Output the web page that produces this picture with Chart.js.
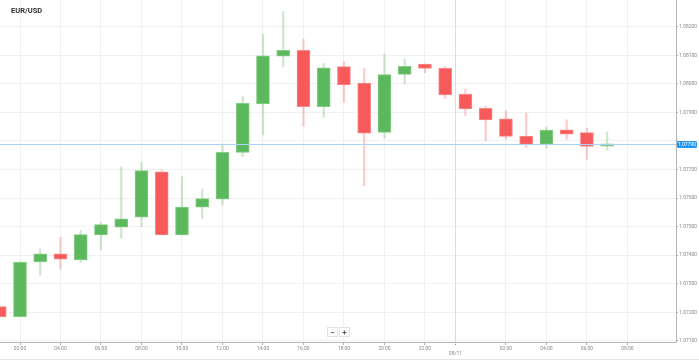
<!DOCTYPE html>
<html>
<head>
<meta charset="utf-8">
<script src="https://cdn.jsdelivr.net/npm/chart.js@4.4.1/dist/chart.umd.min.js"></script>
<style>
  html, body { margin: 0; padding: 0; background: #fff; }
  #wrap { position: relative; width: 699px; height: 361px; }
</style>
</head>
<body>
<div id="wrap"><canvas id="chart" width="699" height="361"></canvas></div>
<script>
const title = 'EUR/USD';
const dayLabel = '08/11';
const dayBreak = 23.5;      // where the date marker sits (hours)
const lastPrice = 1.07790;

// hours counted from 00:00 of the first day, one candle per hour
const hours = [1, 2, 3, 4, 5, 6, 7, 8, 9, 10, 11, 12, 13, 14, 15, 16,
               17, 18, 19, 20, 21, 22, 23, 24, 25, 26, 27, 28, 29, 30, 31];
const openPrices  = [1.07220, 1.07185, 1.07376, 1.07405, 1.07383, 1.07471, 1.07498, 1.07533,
                     1.07692, 1.07471, 1.07568, 1.07596, 1.07760, 1.07930, 1.08097, 1.08117,
                     1.07920, 1.08060, 1.08003, 1.07830, 1.08033, 1.08069, 1.08054, 1.07964,
                     1.07914, 1.07877, 1.07817, 1.07788, 1.07839, 1.07829, 1.07782];
const highPrices  = [1.07222, 1.07379, 1.07422, 1.07463, 1.07486, 1.07514, 1.07710, 1.07726,
                     1.07698, 1.07675, 1.07632, 1.07789, 1.07955, 1.08174, 1.08253, 1.08156,
                     1.08072, 1.08076, 1.08053, 1.08104, 1.08086, 1.08070, 1.08060, 1.07982,
                     1.07922, 1.07906, 1.07898, 1.07849, 1.07874, 1.07845, 1.07832];
const lowPrices   = [1.07183, 1.07183, 1.07330, 1.07351, 1.07376, 1.07418, 1.07459, 1.07500,
                     1.07470, 1.07470, 1.07529, 1.07576, 1.07745, 1.07821, 1.08059, 1.07852,
                     1.07883, 1.07935, 1.07643, 1.07809, 1.08000, 1.08039, 1.07948, 1.07888,
                     1.07801, 1.07806, 1.07778, 1.07774, 1.07806, 1.07736, 1.07768];
const closePrices = [1.07185, 1.07375, 1.07405, 1.07386, 1.07472, 1.07507, 1.07527, 1.07696,
                     1.07471, 1.07568, 1.07598, 1.07760, 1.07932, 1.08098, 1.08117, 1.07920,
                     1.08056, 1.07996, 1.07827, 1.08032, 1.08061, 1.08054, 1.07961, 1.07912,
                     1.07874, 1.07816, 1.07788, 1.07838, 1.07824, 1.07781, 1.07790];

const GREEN = '#5cb85c';
const RED = '#f65a5a';

const isUp = closePrices.map((c, i) => c >= openPrices[i]);

const bodies = hours.map((h, i) => ({ x: h, y: [openPrices[i], closePrices[i]] }));
const wicks = hours.map((h, i) => ({ x: h, y: [lowPrices[i], highPrices[i]] }));

function hourLabel(v) {
    const h = ((v % 24) + 24) % 24;
    return (h < 10 ? '0' : '') + h + ':00';
}

// keep the plot area flush with the canvas edges
function fixAxis(axis, size) {
    if (axis.isHorizontal()) axis.height = size; else axis.width = size;
    axis.paddingLeft = 0;
    axis.paddingRight = 0;
    axis.paddingTop = 0;
    axis.paddingBottom = 0;
}

// extras drawn straight on the canvas: title, price line, date marker, zoom buttons
const overlay = {
    id: 'overlay',
    afterDatasetsDraw(chart) {
        const ctx = chart.ctx;
        const area = chart.chartArea;
        const xs = chart.scales.x;
        const ys = chart.scales.y;

        // day separator
        const dx = Math.round(xs.getPixelForValue(dayBreak)) + 0.5;
        ctx.save();
        ctx.strokeStyle = '#dcdcdc';
        ctx.lineWidth = 1;
        ctx.beginPath();
        ctx.moveTo(dx, area.top);
        ctx.lineTo(dx, area.bottom);
        ctx.stroke();
        ctx.strokeStyle = '#999';
        ctx.setLineDash([1, 1]);
        ctx.beginPath();
        ctx.moveTo(dx, area.bottom);
        ctx.lineTo(dx, area.bottom + 4);
        ctx.stroke();
        ctx.setLineDash([]);
        ctx.fillStyle = '#888';
        ctx.font = '5px Roboto';
        ctx.textAlign = 'center';
        ctx.textBaseline = 'middle';
        ctx.fillText(dayLabel, dx, area.bottom + 12);

        // last price line + label
        const py = Math.round(ys.getPixelForValue(lastPrice)) + 0.5;
        ctx.strokeStyle = '#a9d4f6';
        ctx.beginPath();
        ctx.moveTo(area.left, py);
        ctx.lineTo(area.right, py);
        ctx.stroke();
        ctx.fillStyle = '#2196f3';
        ctx.beginPath();
        ctx.roundRect(area.right + 1, py - 3.5, 20, 7, 1.5);
        ctx.fill();
        ctx.fillStyle = '#fff';
        ctx.font = '5px Roboto';
        ctx.fillText(lastPrice.toFixed(5), area.right + 11, py);

        // title
        ctx.fillStyle = '#333';
        ctx.font = 'bold 7.5px Roboto';
        ctx.textAlign = 'left';
        ctx.fillText(title, 11, 11);

        // zoom buttons
        const bx = [327, 339];
        const glyphs = ['\u2212', '+'];
        ctx.lineWidth = 1;
        bx.forEach((x, i) => {
            ctx.fillStyle = '#fff';
            ctx.strokeStyle = '#e2e2e2';
            ctx.fillRect(x + 0.5, 327.5, 10, 9);
            ctx.strokeRect(x + 0.5, 327.5, 10, 9);
            ctx.fillStyle = '#555';
            ctx.font = 'bold 8px Roboto';
            ctx.textAlign = 'center';
            ctx.fillText(glyphs[i], x + 5.5, 332.5);
        });

        // bottom frame line
        ctx.strokeStyle = '#e6e6e6';
        ctx.beginPath();
        ctx.moveTo(0, 359.5);
        ctx.lineTo(chart.width, 359.5);
        ctx.stroke();
        ctx.restore();
    }
};

new Chart(document.getElementById('chart').getContext('2d'), {
    type: 'bar',
    data: {
        datasets: [
            {
                label: 'body',
                data: bodies,
                backgroundColor: isUp.map(u => u ? GREEN : RED),
                borderColor: isUp.map(u => u ? '#86cc86' : '#f98a8a'),
                borderWidth: 1,
                borderSkipped: false,
                barThickness: 13,
                grouped: false
            },
            {
                label: 'wick',
                data: wicks,
                backgroundColor: isUp.map(u => u ? 'rgba(92,184,92,0.32)' : 'rgba(246,90,90,0.32)'),
                borderWidth: 0,
                barThickness: 1.5,
                grouped: false
            }
        ]
    },
    options: {
        responsive: false,
        animation: false,
        devicePixelRatio: 1,
        layout: { padding: 0 },
        plugins: {
            legend: { display: false },
            tooltip: { enabled: false }
        },
        scales: {
            x: {
                type: 'linear',
                offset: false,
                min: 1.012,
                max: 34.4,
                afterFit: axis => fixAxis(axis, 19),
                // midnight gets the date marker instead, 10:00 at the edge is not shown
                afterBuildTicks: axis => {
                    axis.ticks = axis.ticks.filter(t => t.value !== 24 && t.value < 34);
                },
                grid: {
                    offset: false,
                    color: '#f1f1f1',
                    tickColor: '#aaa',
                    tickLength: 3
                },
                border: { color: '#b5b5b5' },
                ticks: {
                    stepSize: 2,
                    includeBounds: false,
                    autoSkip: false,
                    maxRotation: 0,
                    padding: 1,
                    color: '#888',
                    font: { family: 'Roboto', size: 5 },
                    callback: v => hourLabel(v)
                }
            },
            y: {
                type: 'linear',
                position: 'right',
                min: 1.07096,
                max: 1.082935,
                afterFit: axis => fixAxis(axis, 23),
                grid: {
                    color: '#f1f1f1',
                    tickColor: '#aaa',
                    tickLength: 2
                },
                border: { color: '#b5b5b5' },
                ticks: {
                    stepSize: 0.001,
                    includeBounds: false,
                    padding: 1,
                    color: '#888',
                    font: { family: 'Roboto', size: 5 },
                    callback: v => Math.abs(v - 1.078) < 1e-7 ? '' : v.toFixed(5)
                }
            }
        }
    },
    plugins: [overlay]
});
</script>
</body>
</html>
